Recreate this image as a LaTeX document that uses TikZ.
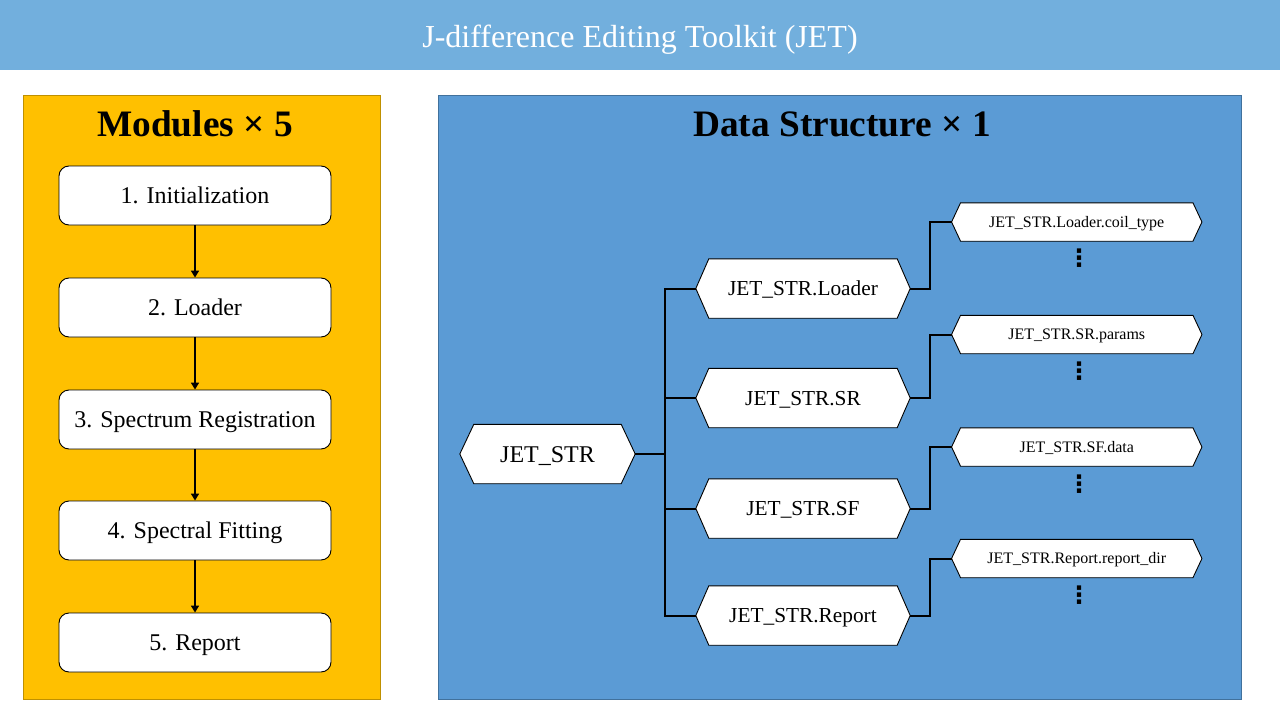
\documentclass[tikz,border=0pt]{standalone}
\usepackage{fontspec}
\setmainfont{Liberation Serif}
\newfontfamily\dejavu{DejaVu Sans}
\usetikzlibrary{arrows.meta}
\pgfdeclarelayer{back}
\pgfdeclarelayer{mid}
\pgfsetlayers{back,mid,main}
\definecolor{hdr}{RGB}{114,175,221}
\definecolor{yel}{RGB}{255,192,0}
\definecolor{yelb}{RGB}{191,144,0}
\definecolor{blu}{RGB}{91,155,213}
\definecolor{blub}{RGB}{65,113,156}
\tikzset{
  modbox/.style={draw=black, line width=0.9pt, fill=white, rounded corners=10pt,
    minimum width=272pt, minimum height=59pt, inner sep=0pt,
    font=\fontsize{24}{28}\selectfont, text height=16.4pt, text depth=0pt},
  hexroot/.style={minimum width=175pt, minimum height=59pt, inner sep=0pt,
    font=\fontsize{24}{28}\selectfont, text height=16.6pt, text depth=0pt},
  hexmid/.style={minimum width=214pt, minimum height=59pt, inner sep=0pt,
    font=\fontsize{21.33}{25}\selectfont, text height=14.6pt, text depth=0pt},
  hexleaf/.style={minimum width=250pt, minimum height=38pt, inner sep=0pt,
    font=\fontsize{16}{19}\selectfont, text height=10.4pt, text depth=0pt},
  hexline/.style={draw=black, line width=0.9pt, fill=white},
  flowarrow/.style={line width=1.6pt, -{Triangle[length=7pt,width=8pt]}},
  treeline/.style={line width=2pt},
  dotsnode/.style={font=\dejavu\bfseries\fontsize{24}{26}\selectfont, inner sep=0pt},
}
\newcommand\hexdraw[2]{%
  \begin{pgfonlayer}{mid}
  \draw[hexline] (#1.west) -- ([xshift=#2]#1.north west) -- ([xshift=-#2]#1.north east)
    -- (#1.east) -- ([xshift=-#2]#1.south east) -- ([xshift=#2]#1.south west) -- cycle;
  \end{pgfonlayer}}
\begin{document}
\begin{tikzpicture}[x=1pt,y=-1pt]
\useasboundingbox (0,0) rectangle (1280,720);
\begin{pgfonlayer}{back}
\fill[white] (0,0) rectangle (1280,720);
\fill[hdr] (0,0) rectangle (1280,70);
\node[draw=yelb, line width=0.8pt, fill=yel, minimum width=357pt, minimum height=604pt, inner sep=0pt] (lp) at (201.5,397) {};
\node[draw=blub, line width=0.8pt, fill=blu, minimum width=803pt, minimum height=604pt, inner sep=0pt] (rp) at (839.5,397) {};
\end{pgfonlayer}

\node[text=white, font=\fontsize{32}{36}\selectfont, anchor=base] (title) at (640,47) {J-difference Editing Toolkit (JET)};

\node[font=\fontsize{37.33}{40}\selectfont\bfseries, anchor=base] (lh) at (195,136) {Modules × 5};
\node[font=\fontsize{37.33}{40}\selectfont\bfseries, anchor=base] (rh) at (842,136) {Data Structure × 1};

% modules
\node[modbox] (m1) at (195,195.5) {1. Initialization};
\node[modbox] (m2) at (195,307.5) {2. Loader};
\node[modbox] (m3) at (195,419.5) {3. Spectrum Registration};
\node[modbox] (m4) at (195,530.5) {4. Spectral Fitting};
\node[modbox] (m5) at (195,642.5) {5. Report};
\draw[flowarrow] (m1) -- (m2);
\draw[flowarrow] (m2) -- (m3);
\draw[flowarrow] (m3) -- (m4);
\draw[flowarrow] (m4) -- (m5);

% tree
\node[hexroot] (root) at (547.5,454) {JET\_STR};
\node[hexmid] (loader) at (803,288.5) {JET\_STR.Loader};
\node[hexmid] (sr) at (803,398) {JET\_STR.SR};
\node[hexmid] (sf) at (803,508.5) {JET\_STR.SF};
\node[hexmid] (rep) at (803,615.5) {JET\_STR.Report};
\node[hexleaf] (l1) at (1076.75,222) {JET\_STR.Loader.coil\_type};
\node[hexleaf] (l2) at (1076.75,334.5) {JET\_STR.SR.params};
\node[hexleaf] (l3) at (1076.75,447) {JET\_STR.SF.data};
\node[hexleaf] (l4) at (1076.75,558.5) {JET\_STR.Report.report\_dir};
\hexdraw{root}{14pt}
\foreach \n in {loader,sr,sf,rep}{\hexdraw{\n}{13pt}}
\foreach \n in {l1,l2,l3,l4}{\hexdraw{\n}{9pt}}

\node[dotsnode] (d1) at (1079,258) {⋮};
\node[dotsnode] (d2) at (1079,371) {⋮};
\node[dotsnode] (d3) at (1079,484) {⋮};
\node[dotsnode] (d4) at (1079,595) {⋮};

\coordinate (tr) at (665,454);
\draw[treeline] (root.east) -- (tr);
\draw[treeline] (tr) |- (loader.west);
\draw[treeline] (tr) |- (sr.west);
\draw[treeline] (tr) |- (sf.west);
\draw[treeline] (tr) |- (rep.west);
\draw[treeline] (loader.east) -- ++(20,0) |- (l1.west);
\draw[treeline] (sr.east) -- ++(20,0) |- (l2.west);
\draw[treeline] (sf.east) -- ++(20,0) |- (l3.west);
\draw[treeline] (rep.east) -- ++(20,0) |- (l4.west);
\end{tikzpicture}
\end{document}
